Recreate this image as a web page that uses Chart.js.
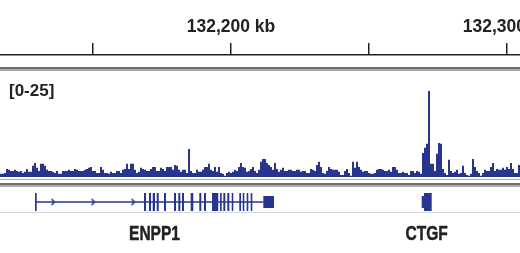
<!DOCTYPE html>
<html><head><meta charset="utf-8">
<script src="https://cdn.jsdelivr.net/npm/chart.js@4.4.1/dist/chart.umd.min.js"></script>
<style>
html,body{margin:0;padding:0;background:#fff;width:520px;height:253px;overflow:hidden;}
#wrap{position:relative;width:520px;height:253px;overflow:hidden;}
canvas{position:absolute;left:0;}
.sep{position:absolute;left:0;width:520px;}
</style></head><body><div id="wrap">
<canvas id="ruler" width="520" height="120" style="top:0;width:520px;height:120px"></canvas>
<div class="sep" style="top:67px;height:4px;background:linear-gradient(#6f6f6f 0 50%,#a9a9a9 50% 100%)"></div>
<canvas id="signal" width="520" height="100" style="top:77px;width:520px;height:100px"></canvas>
<div class="sep" style="top:179px;height:1px;background:#a8abbb"></div>
<div class="sep" style="top:183px;height:4px;background:linear-gradient(#6f6f6f 0 50%,#a9a9a9 50% 100%)"></div>
<canvas id="genes" width="520" height="68" style="top:185px;width:520px;height:68px"></canvas>
<div class="sep" style="top:212px;height:1px;background:#d6d6d6"></div>
</div>
<script>
// ---- data ----
const viewStartKb = 132116.3, viewEndKb = 132304.7;
const rulerTicksKb = [132150, 132200, 132250, 132300];
const rulerLabelsKb = [132200, 132300];
const dataRangeMin = 0, dataRangeMax = 25;
const signalValues = [
  0.8,0.8,1,2,1.8,1.5,1.5,1.8,1.5,1.3,1.5,1,1.3,2,1.3,1.3,2.8,3.5,2.3,1.5,3.3,3.3,2.8,1.8,1.5,1.5,1.3,1,1.5,0.8,0.8,1.5,1.5,1.5,1.8,1.5,1.5,2,1.8,1.5,1.5,1.5,1.8,2,2.3,2.5,1.5,1.5,1,1,2.5,1.8,
  1,1,0.8,1.3,1,1,1.5,1.5,1,1.8,2,3.3,2,3.3,3.3,1.8,1,1.3,2.3,2,1.8,1.5,1.5,2,2.5,2.5,1.5,1.5,2.3,2,1.5,2.5,2.5,2.5,1.8,3,2.8,1.8,1.3,1.8,1.8,1,7,1.5,1,1,1.8,1.3,1.3,1.8,2.5,2.5,
  3.3,1.8,1.5,2.5,1.3,2.5,1,0.8,0.3,1,1.3,1,1.3,1.8,1.5,2.5,3.5,2.5,2.3,1.3,1.5,2,2.5,1.5,1,1.8,3.8,4.5,4.5,3.5,3,2.5,1.8,3.5,2,1.3,1.8,2.3,1.5,1.5,1.8,1.8,1.5,1.5,1.8,1.8,1.3,1.5,1.5,1,1,2,
  1.8,1.5,3,3.8,2.5,1,0.8,1.5,2.5,2,1.8,1.8,1.8,1.3,0.5,0.5,1.5,2,1,0.3,3.8,2.3,3.8,2.5,1.8,1.3,1.5,1.5,1,0.8,0.8,1,1.8,2,2,1.8,1.5,1.5,1.8,1.3,2.5,2.5,1.8,1,1,1.3,1,1,0.5,1.5,1.5,1,
  1.5,1.3,0.8,6,7.3,8.3,21.5,3.3,3.3,1.5,5.8,8.5,8.3,2,1,0.5,4.3,1.5,1,1.3,1.8,0.8,1,2.8,1,0.5,0.3,0.8,4.5,2.5,1.5,1,0.3,1,1.8,1.5,1.5,2.5,3.5,1.5,2,1.8,1.8,2.3,1.8,2.5,2,3.5,2,1,1,3
];
const geneNames = ['ENPP1', 'CTGF'];
const geneStartKb = [132128.98, 132269.09];
const geneEndKb = [132215.58, 132272.71];
const intronSpans = [[132129.3, 132211.7]];
const codingExons = [
  [132128.98,132129.60],[132168.47,132169.20],[132170.29,132171.01],[132171.63,132172.46],
  [132173.08,132173.80],[132175.72,132176.44],[132179.34,132180.07],[132180.90,132181.63],
  [132182.24,132182.97],[132185.39,132186.34],[132188.51,132189.23],[132190.21,132190.94],
  [132193.11,132195.39],[132196.01,132196.63],[132197.21,132197.93],[132198.66,132199.38],
  [132200.25,132200.83],[132203.00,132203.62],[132204.23,132204.81],[132205.68,132206.26],
  [132207.13,132207.71],[132269.92,132272.71]
];
const utrExons = [[132211.70,132215.58],[132269.09,132269.92]];
const strandArrowKb = [132135.5, 132150.0, 132164.5];

// ---- styles ----
const navy = '#28358f';
const textColor = '#222';
const binLabels = signalValues.map((v, i) => (viewStartKb + i * (viewEndKb - viewStartKb) / signalValues.length).toFixed(2));
const common = {responsive:false, animation:false, devicePixelRatio:1,
  plugins:{legend:{display:false}, tooltip:{enabled:false}}};

// ---- ruler ----
new Chart(document.getElementById('ruler'), {
  type:'scatter',
  data:{datasets:[{data:[]}]},
  options:Object.assign({}, common, {
    layout:{autoPadding:false, padding:{top:12,left:0,right:0,bottom:0}},
    scales:{
      x:{type:'linear', position:'top', min:viewStartKb, max:viewEndKb,
        afterBuildTicks: s => { s.ticks = rulerTicksKb.map(v => ({value:v})); },
        afterFit: s => { s.paddingLeft = 0; s.paddingRight = 0; },
        ticks:{autoSkip:false, maxRotation:0, minRotation:0, padding:5, color:textColor,
          font:{family:'"Liberation Sans", Arial, sans-serif', weight:'bold', size:17.5},
          callback: v => rulerLabelsKb.includes(v) ? v.toLocaleString('en-US') + ' kb' : ''},
        grid:{drawOnChartArea:false, tickLength:12, color:textColor, lineWidth:1.5},
        border:{display:true, color:textColor, width:1.5}},
      y:{display:false}
    }
  })
});

// ---- signal ----
new Chart(document.getElementById('signal'), {
  type:'bar',
  data:{labels:binLabels, datasets:[{data:signalValues, backgroundColor:navy, borderWidth:0,
    barPercentage:1, categoryPercentage:1, inflateAmount:0}]},
  options:Object.assign({}, common, {
    layout:{autoPadding:false, padding:0},
    scales:{x:{display:false}, y:{display:false, min:dataRangeMin, max:dataRangeMax}}
  }),
  plugins:[{id:'rangeLabel', afterDraw(c){
    const ctx = c.ctx; ctx.save();
    ctx.fillStyle = textColor; ctx.font = 'bold 17px "Liberation Sans", Arial, sans-serif';
    ctx.textBaseline = 'alphabetic'; ctx.textAlign = 'left';
    ctx.fillText('[' + dataRangeMin + '-' + dataRangeMax + ']', 9, 19);
    ctx.restore();
  }}]
});

// ---- genes ----
function chevron(){
  const c = document.createElement('canvas'); c.width = 6; c.height = 9;
  const g = c.getContext('2d'); g.strokeStyle = navy; g.lineWidth = 1.5;
  g.beginPath(); g.moveTo(1.5,1.5); g.lineTo(4.5,4.5); g.lineTo(1.5,7.5); g.stroke();
  return c;
}
const row = 'genes';
const toPts = spans => spans.map(s => ({x:s, y:row}));
new Chart(document.getElementById('genes'), {
  type:'bar',
  data:{labels:[row], datasets:[
    {data:toPts(intronSpans), backgroundColor:navy, barThickness:1.5, grouped:false, inflateAmount:0, borderWidth:0},
    {data:toPts(utrExons), backgroundColor:navy, barThickness:12, grouped:false, inflateAmount:0, borderWidth:0},
    {data:toPts(codingExons), backgroundColor:navy, barThickness:18, grouped:false, inflateAmount:0, borderWidth:0},
    {type:'scatter', data:strandArrowKb.map(x => ({x, y:row})), pointStyle:chevron(), pointRadius:4}
  ]},
  options:Object.assign({}, common, {
    indexAxis:'y',
    layout:{autoPadding:false, padding:{top:5, bottom:39, left:0, right:0}},
    scales:{x:{type:'linear', display:false, min:viewStartKb, max:viewEndKb},
            y:{type:'category', display:false}}
  }),
  plugins:[{id:'geneNames', afterDraw(c){
    const ctx = c.ctx, xs = c.scales.x;
    geneNames.forEach((n, i) => {
      const cx = xs.getPixelForValue((geneStartKb[i] + geneEndKb[i]) / 2);
      ctx.save();
      ctx.fillStyle = textColor; ctx.strokeStyle = textColor; ctx.lineWidth = 0.5;
      ctx.font = 'bold 21px "Liberation Sans", Arial, sans-serif';
      ctx.textAlign = 'center'; ctx.textBaseline = 'alphabetic';
      ctx.translate(cx, c.chartArea.bottom + 26);
      ctx.scale(0.74, 1);
      ctx.fillText(n, 0, 0);
      ctx.strokeText(n, 0, 0);
      ctx.restore();
    });
  }}]
});
</script>
</body></html>
